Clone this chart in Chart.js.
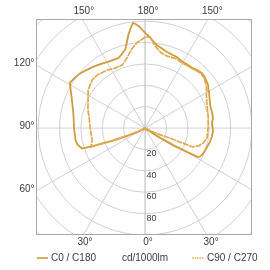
<!DOCTYPE html>
<html>
<head>
<meta charset="utf-8">
<script src="https://cdn.jsdelivr.net/npm/chart.js@4"></script>
<style>
  body { margin: 0; background: #fff; }
  #wrap { width: 270px; height: 270px; }
</style>
</head>
<body>
<div id="wrap"><canvas id="polarCanvas"></canvas></div>
<script>
// gamma angles (0 = straight down, 180 = straight up) and intensity in cd/1000lm
const c0Angles = [0, 45, 50, 53, 56, 58.5, 60.3, 61.3, 63, 65, 70, 73, 78, 83, 88, 92, 95, 98, 103, 109, 115, 120, 124, 127, 131, 134, 138, 141, 146, 150, 156, 164, 168, 172, 175, 177, 180];
const c0Values = [0, 0, 0.5, 3, 15, 30, 45, 56.5, 58, 59, 60, 60.6, 62, 63, 63.6, 63, 62.9, 64.2, 64.4, 64.4, 66.5, 69, 71.3, 72.2, 73.5, 74, 73, 71.8, 71.3, 71.2, 72.8, 74, 76, 78.4, 82, 85.2, 89];

const c180Angles = [0, 55, 58, 62, 66, 68, 70, 71, 72, 76, 80, 90, 100, 110, 118, 121, 125, 130, 135, 140, 145, 150, 155, 159, 162, 166, 168, 170, 172, 173.5, 175, 177, 180];
const c180Values = [0, 0, 2, 6, 15, 28, 42, 52, 62, 65, 66, 66.4, 68, 72.6, 79, 82, 81, 79.5, 77, 75, 73, 71.2, 70.3, 70, 72, 76, 82, 89, 95, 99, 97.5, 94.5, 89];

const c90Angles = [0, 55, 60, 63.4, 66, 67.8, 68.2, 68.4, 72, 75.5, 80.8, 90, 100, 110.4, 118, 125, 131, 134, 138, 141, 146, 150, 156, 164, 168, 172, 174.7, 176.9, 180];
const c90Values = [0, 0, 1, 8, 15, 22, 35, 48, 53, 56, 58.7, 58.9, 60, 61.8, 65, 70, 72.5, 73, 72, 71, 70.5, 70, 71, 70.5, 72, 76, 80.7, 85.2, 85];

const c270Angles = [0, 55, 60, 64, 67, 69, 70, 70.6, 74, 77, 90, 100, 107.5, 116, 123.7, 132, 138, 147, 153, 160, 163, 166, 171, 175, 180];
const c270Values = [0, 0, 3, 8, 18, 30, 42, 53.5, 52, 50.8, 51.4, 53, 56, 59.3, 64, 66.8, 66.8, 64.8, 62.7, 62.7, 65, 68.5, 75.7, 80.6, 85];

const ringValues = [20, 40, 60, 80, 100, 120, 140];
const ringLabels = ["20", "40", "60", "80"];
const spokeAngles = [0, 30, 60, 90, 120, 150, 180];
const topLabels = ["150°", "180°", "150°"];
const leftLabels = ["120°", "90°", "60°"];
const bottomLabels = ["30°", "0°", "30°"];

const solidColor = "#d39a3a";
const dotColor = "#dfa94e";
const textColor = "#3a3a3a";

// one half plane: side 1 = right, -1 = left
function halfPlane(angles, values, side) {
	let pts = [];
	for (let i = 0; i < angles.length; i++) {
		let a = angles[i] * Math.PI / 180;
		pts.push({ x: side * values[i] * Math.sin(a), y: -values[i] * Math.cos(a) });
	}
	return pts;
}

// right half bottom->top, then left half top->bottom
function loop(rightA, rightV, leftA, leftV) {
	let right = halfPlane(rightA, rightV, 1);
	let left = halfPlane(leftA, leftV, -1).reverse();
	return right.concat(left);
}

const gridPlugin = {
	id: "polarGrid",
	beforeDatasetsDraw(chart) {
		const ctx = chart.ctx;
		const area = chart.chartArea;
		const xs = chart.scales.x, ys = chart.scales.y;
		const cx = xs.getPixelForValue(0), cy = ys.getPixelForValue(0);
		const unit = xs.getPixelForValue(1) - cx;

		ctx.save();
		ctx.beginPath();
		ctx.rect(area.left, area.top, area.right - area.left, area.bottom - area.top);
		ctx.clip();
		ctx.strokeStyle = "#c4c4c4";
		ctx.lineWidth = 0.8;
		ringValues.forEach(function(r) {
			ctx.beginPath();
			ctx.arc(cx, cy, r * unit, 0, Math.PI * 2);
			ctx.stroke();
		});
		// spokes every 30 degrees out to the box edge
		spokeAngles.forEach(function(g) {
			let a = g * Math.PI / 180;
			[1, -1].forEach(function(side) {
				ctx.beginPath();
				ctx.moveTo(cx, cy);
				ctx.lineTo(xs.getPixelForValue(side * 300 * Math.sin(a)), ys.getPixelForValue(-300 * Math.cos(a)));
				ctx.stroke();
			});
		});
		ctx.restore();

		ctx.save();
		ctx.strokeStyle = "#a8a8a8";
		ctx.lineWidth = 1;
		ctx.strokeRect(area.left + 0.5, area.top + 0.5, area.right - area.left - 1, area.bottom - area.top - 1);

		ctx.fillStyle = textColor;
		ctx.font = "9px 'Liberation Sans', Arial, sans-serif";
		ctx.textAlign = "left";
		ctx.textBaseline = "middle";
		ringLabels.forEach(function(t, i) {
			ctx.fillText(t, cx + 1.5, ys.getPixelForValue(-ringValues[i]) + 4.5);
		});
		ctx.restore();
	},
	afterDraw(chart) {
		const ctx = chart.ctx;
		const area = chart.chartArea;
		const xs = chart.scales.x, ys = chart.scales.y;
		const cx = xs.getPixelForValue(0), cy = ys.getPixelForValue(0);
		const tan30 = Math.tan(Math.PI / 6);
		const up = cy - area.top, down = area.bottom - cy, left = cx - area.left;

		ctx.save();
		ctx.fillStyle = textColor;
		ctx.font = "10px 'Liberation Sans', Arial, sans-serif";
		ctx.textBaseline = "middle";
		ctx.textAlign = "center";
		[-1, 0, 1].forEach(function(s, i) {
			ctx.fillText(topLabels[i], cx + s * up * tan30 + 3 + s * 1.3, area.top - 7.5);
			ctx.fillText(bottomLabels[i], cx + s * down * tan30 + 3 + s * 1.3, area.bottom + 7);
		});
		ctx.textAlign = "right";
		[-1, 0, 1].forEach(function(s, i) {
			ctx.fillText(leftLabels[i], area.left - 1.5, cy + s * left * tan30 - 1.5);
		});

		// legend row
		const ly = 258;
		ctx.strokeStyle = solidColor;
		ctx.lineWidth = 1.6;
		ctx.beginPath();
		ctx.moveTo(37, ly);
		ctx.lineTo(48, ly);
		ctx.stroke();
		ctx.strokeStyle = dotColor;
		ctx.setLineDash([1.5, 1]);
		ctx.beginPath();
		ctx.moveTo(192, ly);
		ctx.lineTo(204, ly);
		ctx.stroke();
		ctx.setLineDash([]);
		ctx.textAlign = "left";
		ctx.fillText("C0 / C180", 51, ly);
		ctx.fillText("C90 / C270", 207, ly);
		ctx.textAlign = "center";
		ctx.fillText("cd/1000lm", 145, ly);
		ctx.restore();
	}
};

new Chart(document.getElementById("polarCanvas").getContext("2d"), {
	type: "scatter",
	data: {
		datasets: [
			{
				label: "C90 / C270",
				data: loop(c90Angles, c90Values, c270Angles, c270Values),
				showLine: true,
				borderColor: dotColor,
				borderWidth: 1.7,
				borderDash: [6, 0.8],
				pointRadius: 0,
				tension: 0
			},
			{
				label: "C0 / C180",
				data: loop(c0Angles, c0Values, c180Angles, c180Values),
				showLine: true,
				borderColor: solidColor,
				borderWidth: 1.8,
				pointRadius: 0,
				tension: 0
			}
		]
	},
	options: {
		responsive: true,
		maintainAspectRatio: false,
		animation: false,
		layout: { padding: { left: 36, right: 18, top: 19, bottom: 35 } },
		plugins: { legend: { display: false }, tooltip: { enabled: false } },
		scales: {
			x: { type: "linear", min: -102, max: 100, display: false },
			y: { type: "linear", min: -100, max: 102, display: false }
		}
	},
	plugins: [gridPlugin]
});
</script>
</body>
</html>
